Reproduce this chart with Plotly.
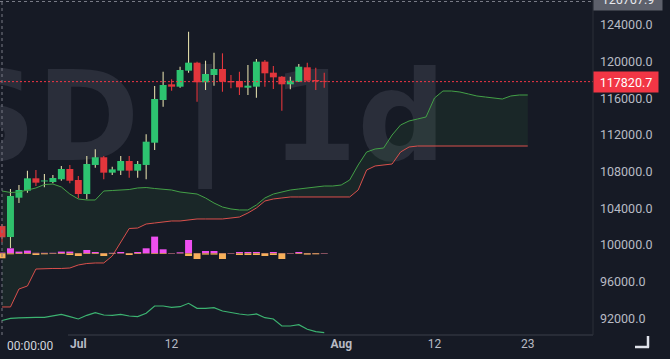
import pandas as pd
import plotly.graph_objects as go

# ---------------- data ----------------
start = "2025-06-22"
candle_dates = pd.date_range(start, periods=39, freq="D")
cloud_dates = pd.date_range(start, periods=63, freq="D")

opens = [102070, 100870, 105160, 105925, 107275, 106930, 106870, 107170, 108290, 107090,
         105565, 108730, 109570, 107890, 108110, 109165, 108110, 108730, 111160, 115820,
         117530, 117270, 119015, 119890, 117750, 118545, 119200, 117890, 117890, 117160,
         117270, 120000, 118800, 118360, 117530, 117815, 119385, 118000, 117900]
highs = [102300, 106110, 106545, 108110, 108180, 107745, 107640, 108620, 108730, 107530,
         109710, 110440, 109710, 108540, 109710, 109710, 109165, 112075, 117345, 118905,
         118080, 119450, 123270, 120000, 120105, 120980, 120910, 118545, 118905, 119635,
         120290, 120180, 119525, 118435, 118360, 119745, 119890, 119345, 118800]
lows = [100300, 99673, 104580, 105710, 106440, 106290, 106730, 107010, 106730, 105095,
        104985, 108430, 107170, 107640, 107640, 107340, 107340, 107180, 110360, 115090,
        116830, 117160, 118800, 115630, 116910, 117380, 116720, 117090, 116365, 116365,
        116070, 117270, 117020, 114650, 116985, 117780, 117815, 116910, 117160]
closes = [100840, 105345, 106000, 107275, 106800, 107040, 107310, 108290, 107010, 105565,
          108835, 109570, 107890, 108250, 109165, 108110, 108835, 111270, 115930, 117455,
          117270, 119090, 119890, 117750, 118655, 119200, 117815, 117750, 117200, 117380,
          120000, 118730, 118290, 117530, 117925, 119450, 117925, 117860, 117820.7]

span_a = [105890, 105730, 105780, 106000, 106220, 106600, 106650, 106330, 105560, 105020,
          104910, 104910, 105890, 105945, 106000, 106055, 106220, 106270, 106165, 106110,
          106000, 105780, 105670, 105560, 105130, 104580, 104145, 103930, 103820, 103820,
          104365, 105130, 105560, 105780, 106000, 106110, 106220, 106330, 106435, 106435,
          106545, 107090, 108730, 110145, 110475, 110580, 112000, 113090, 113530, 113745,
          113965, 116035, 116800, 116800, 116690, 116475, 116255, 116145, 116035, 115925,
          116255, 116365, 116365]
span_b = [93240, 93240, 95200, 95530, 97380, 97440, 97440, 97440, 97490, 97820,
          97980, 98040, 98040, 98800, 100330, 101800, 101850, 102290, 102400, 102510,
          102620, 102620, 102730, 102840, 102840, 102840, 102840, 102945, 103055, 103490,
          104035, 104800, 105020, 105130, 105240, 105240, 105240, 105240, 105240, 105240,
          105240, 105240, 106000, 108180, 108620, 108730, 108835, 110145, 110690, 110800,
          110800, 110800, 110800, 110800, 110800, 110800, 110800, 110800, 110800, 110800,
          110800, 110800, 110800]
lower_line = [91760, 92000, 92055, 92110, 92110, 92110, 92255, 92440, 92180, 91930,
              92330, 92615, 92365, 92330, 92440, 92255, 92180, 92550, 93345, 93345,
              93200, 93270, 93640, 93095, 93095, 93160, 92800, 92615, 92475, 92365,
              92475, 92070, 91930, 91165, 91165, 91305, 90805, 90545, 90435]

buy_vol = [70, 500, 170, 270, 50, 50, 50, 170, 170, 30, 330, 130, 30, 50, 130, 30, 130, 500,
           1670, 400, 30, 100, 1330, 30, 230, 230, 30, 30, 130, 130, 130, 30, 130, 30, 30,
           130, 30, 30, 30]
sell_vol = [500, 100, 70, 70, 170, 100, 50, 70, 170, 270, 70, 70, 270, 50, 30, 170, 70, 30,
            70, 70, 30, 30, 270, 570, 130, 130, 570, 30, 170, 170, 170, 270, 170, 570, 30,
            70, 130, 100, 30]

price_ticks = [92000, 96000, 100000, 104000, 108000, 112000, 116000, 120000, 124000]
price_tick_text = [f"{v:.1f}" for v in price_ticks]
date_ticks = ["2025-07-01", "2025-07-12", "2025-08-01", "2025-08-12", "2025-08-23"]
date_tick_text = ["<b>Jul</b>", "12", "<b>Aug</b>", "12", "23"]
watermark = "BTCUSD | 1d"
crosshair_price = 126767.9
crosshair_time = "00:00:00"

# ---------------- style ----------------
BG = "#161a25"
UP = "#2dc470"
DOWN = "#e2363c"
UP_WICK = "#ddd9a8"
TXT = "#b8bbc4"
FONT = "Roboto"

W, H = 670, 359
PLOT_W, PLOT_H = 593, 335
PX_PER_DAY = 8.48
day = pd.Timedelta(days=1)
t0 = pd.Timestamp(start)
x_left = t0 - day * (2 / PX_PER_DAY)
x_right = x_left + day * (PLOT_W / PX_PER_DAY)
ms_day = 86400000

is_up = [c >= o for o, c in zip(opens, closes)]
body_base = [min(o, c) for o, c in zip(opens, closes)]
body_len = [abs(c - o) for o, c in zip(opens, closes)]
wick_len = [h - l for h, l in zip(highs, lows)]
body_col = [UP if u else DOWN for u in is_up]
wick_col = [UP_WICK if u else DOWN for u in is_up]

fig = go.Figure()

# watermark (base subplot, beneath everything)
fig.add_trace(go.Scatter(
    x=[x_left + day * (446 / PX_PER_DAY)], y=[0.615], mode="text", text=[watermark],
    textposition="middle left",
    textfont=dict(size=124, color="#2a2e3a", family="DejaVu Sans", weight="bold"),
    xaxis="x", yaxis="y", hoverinfo="skip", showlegend=False))

# cloud
fig.add_trace(go.Scatter(x=cloud_dates, y=span_b, mode="lines",
                         line=dict(color="#d9504c", width=1), yaxis="y2",
                         showlegend=False, hoverinfo="skip"))
fig.add_trace(go.Scatter(x=cloud_dates, y=span_a, mode="lines",
                         line=dict(color="#43a047", width=1), fill="tonexty",
                         fillcolor="rgba(67,160,71,0.10)", yaxis="y2",
                         showlegend=False, hoverinfo="skip"))
fig.add_trace(go.Scatter(x=candle_dates, y=lower_line, mode="lines",
                         line=dict(color="#3cb371", width=1.2), yaxis="y2",
                         showlegend=False, hoverinfo="skip"))

# candles: wicks then bodies
fig.add_trace(go.Bar(x=candle_dates, y=wick_len, base=lows, width=ms_day * 1.1 / PX_PER_DAY,
                     marker=dict(color=wick_col, line=dict(width=0)), yaxis="y2",
                     showlegend=False, hoverinfo="skip"))
fig.add_trace(go.Bar(x=candle_dates, y=body_len, base=body_base, width=ms_day * 0.82,
                     marker=dict(color=body_col, line=dict(width=0)), yaxis="y2",
                     showlegend=False, hoverinfo="skip"))

# histogram
fig.add_trace(go.Bar(x=candle_dates, y=buy_vol, base=0, width=ms_day * 0.82,
                     marker=dict(color="#ee4ff0", line=dict(width=0)), yaxis="y3",
                     showlegend=False, hoverinfo="skip"))
fig.add_trace(go.Bar(x=candle_dates, y=[-v for v in sell_vol], base=0, width=ms_day * 0.82,
                     marker=dict(color="#f7b05a", line=dict(width=0)), yaxis="y3",
                     showlegend=False, hoverinfo="skip"))

base_frac = (PLOT_H - 253.3) / PLOT_H  # histogram zero line position
hist_hi = 25330
hist_lo = -hist_hi * base_frac / (1 - base_frac)

shapes = [
    # last price dotted line
    dict(type="line", xref="paper", x0=0, x1=1, yref="y2", y0=closes[-1], y1=closes[-1],
         line=dict(color="#f23645", width=1, dash="2px,2px")),
    # crosshair
    dict(type="line", xref="x", x0=candle_dates[0], x1=candle_dates[0], yref="paper", y0=0, y1=1,
         line=dict(color="#787b86", width=1, dash="3px,3px")),
    dict(type="line", xref="paper", x0=0, x1=1, yref="paper", y0=1 - 1.5 / PLOT_H, y1=1 - 1.5 / PLOT_H,
         line=dict(color="#787b86", width=1, dash="3px,3px")),
    # frame lines
    dict(type="line", xref="paper", x0=68 / PLOT_W, x1=1, yref="paper", y0=0, y1=0,
         line=dict(color="#3b3f4b", width=1)),
    dict(type="line", xref="paper", x0=1, x1=1, yref="paper", y0=0, y1=1,
         line=dict(color="#2a2e39", width=1)),
    # corner icon
    dict(type="line", xref="paper", x0=648 / PLOT_W, x1=648 / PLOT_W, yref="paper",
         y0=-1 / PLOT_H, y1=-12.5 / PLOT_H, line=dict(color="#e0e3eb", width=2.5)),
    dict(type="line", xref="paper", x0=635 / PLOT_W, x1=649 / PLOT_W, yref="paper",
         y0=-12 / PLOT_H, y1=-12 / PLOT_H, line=dict(color="#e0e3eb", width=2.5)),
]

annotations = [
    dict(xref="paper", x=1, xanchor="left", xshift=0, yref="y2", y=closes[-1], yanchor="middle",
         text=f"{closes[-1]:.1f}", showarrow=False, bgcolor="#f23645", width=62, height=18,
         font=dict(color="#ffffff", size=12.5, family=FONT)),
    dict(xref="paper", x=1, xanchor="left", yref="paper", y=1, yanchor="middle", yshift=1,
         text=f"{crosshair_price:.1f}", showarrow=False, bgcolor="#5d606b", width=66, height=20,
         font=dict(color="#e8e9ee", size=12.5, family=FONT)),
    dict(xref="paper", x=5 / PLOT_W, xanchor="left", yref="paper", y=0, yanchor="top", yshift=-2,
         text=crosshair_time, showarrow=False, font=dict(color="#d1d4dc", size=12, family=FONT)),
]

fig.update_layout(
    width=W, height=H,
    margin=dict(l=0, r=W - PLOT_W, t=0, b=H - PLOT_H),
    paper_bgcolor=BG, plot_bgcolor=BG,
    barmode="overlay", showlegend=False, hovermode=False,
    font=dict(family=FONT, color=TXT, size=12),
    xaxis=dict(type="date", range=[x_left, x_right], tickvals=date_ticks, ticktext=date_tick_text,
               showgrid=False, zeroline=False, showline=False, ticks="",
               tickfont=dict(size=12, color=TXT, family=FONT)),
    yaxis=dict(range=[0, 1], visible=False, fixedrange=True),
    yaxis2=dict(overlaying="y", side="right", range=[90182, 126727], tickvals=price_ticks,
                ticktext=price_tick_text, showgrid=False, zeroline=False, showline=False,
                ticks="", ticklabelstandoff=6, tickfont=dict(size=12.5, color=TXT, family=FONT)),
    yaxis3=dict(overlaying="y", range=[hist_lo, hist_hi], visible=False),
    shapes=shapes, annotations=annotations,
)

fig.write_html(
    "out.html",
    config={"displayModeBar": False, "staticPlot": True},
    post_script="document.body.style.margin='0px';document.body.style.padding='0px';"
                "document.documentElement.style.background='#161a25';",
)
